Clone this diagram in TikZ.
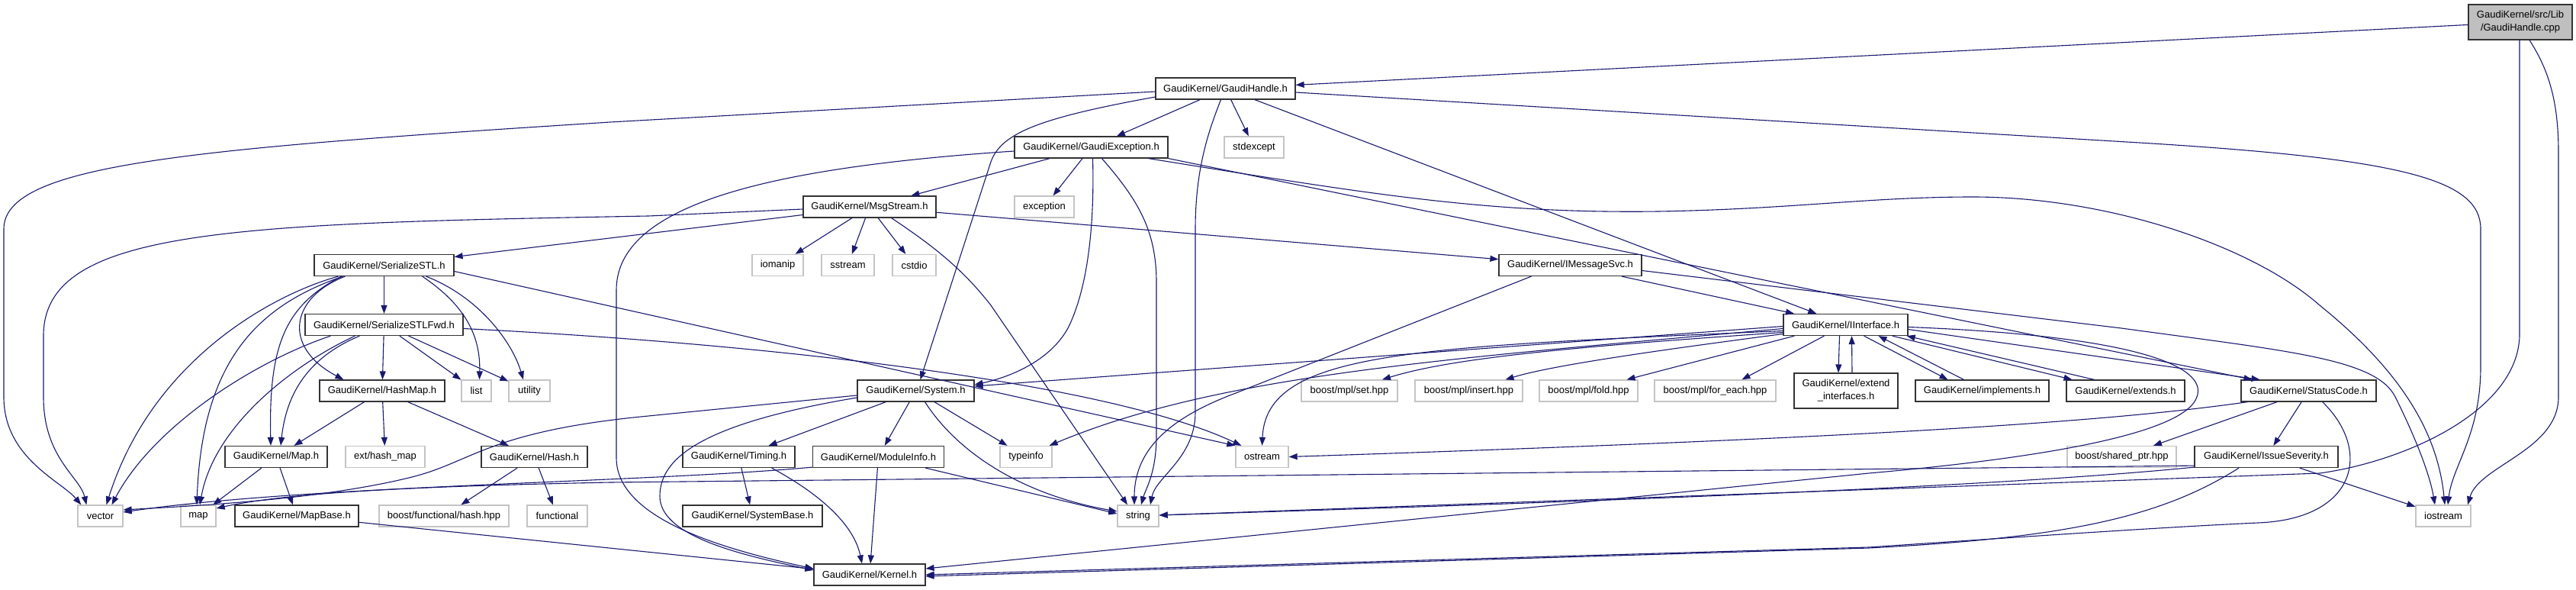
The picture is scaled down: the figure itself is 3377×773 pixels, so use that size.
\documentclass[tikz,border=0pt]{standalone}
\usepackage{fontspec}
\setmainfont{Liberation Sans}
\usetikzlibrary{arrows.meta,calc}
\definecolor{edgec}{HTML}{191970}
\definecolor{sysc}{HTML}{C4C4C4}
\definecolor{cppc}{HTML}{BFBFBF}
\begin{document}
\begin{tikzpicture}[x=1pt,y=-1pt,
  every node/.style={font=\fontsize{13}{17}\selectfont, inner sep=0pt, align=center},
  proj/.style={draw=black!80, line width=1.2pt, fill=white, minimum height=28pt},
  sys/.style={draw=sysc, line width=1.3pt, fill=white, minimum height=28pt},
  cppbox/.style={draw=black!80, line width=1.2pt, fill=cppc, minimum height=46pt},
  e/.style={draw=edgec, line width=1.1pt, -{Triangle[length=11pt,width=8pt]}}]
\fill[white] (0,0) rectangle (3377,773);
\useasboundingbox (0,0) rectangle (3377,773);

% ---------------- nodes ----------------
\node[cppbox, minimum width=136pt] (cpp) at (3304,29) {GaudiKernel/src/Lib\\/GaudiHandle.cpp};
\node[proj, minimum width=183pt] (GH) at (1606.5,116) {GaudiKernel/GaudiHandle.h};
\node[proj, minimum width=201pt] (GE) at (1430.5,193) {GaudiKernel/GaudiException.h};
\node[sys, minimum width=78pt] (stdexcept) at (1644,193) {stdexcept};
\node[proj, minimum width=174pt] (MS) at (1140,271) {GaudiKernel/MsgStream.h};
\node[sys, minimum width=78pt] (exc) at (1369,271) {exception};
\node[sys, minimum width=67pt] (iomanip) at (1019.5,347.5) {iomanip};
\node[sys, minimum width=69pt] (sstream) at (1111.5,347.5) {sstream};
\node[sys, minimum width=57pt] (cstdio) at (1198.5,347.5) {cstdio};
\node[proj, minimum width=187pt] (IMS) at (2058.5,347.5) {GaudiKernel/IMessageSvc.h};
\node[proj, minimum width=183pt] (SS) at (503.5,347.5) {GaudiKernel/SerializeSTL.h};
\node[proj, minimum width=207pt] (SSF) at (503.5,425.5) {GaudiKernel/SerializeSTLFwd.h};
\node[proj, minimum width=163pt] (II) at (2419.5,425.5) {GaudiKernel/IInterface.h};
\node[proj, minimum width=164pt] (HM) at (501,512) {GaudiKernel/HashMap.h};
\node[sys, minimum width=39pt] (nlist) at (624.5,512) {list};
\node[sys, minimum width=54pt] (nutility) at (694,512) {utility};
\node[proj, minimum width=153pt] (Sys) at (1200.5,512) {GaudiKernel/System.h};
\node[sys, minimum width=126pt] (nset) at (1769,512) {boost/mpl/set.hpp};
\node[sys, minimum width=141pt] (ninsert) at (1925.5,512) {boost/mpl/insert.hpp};
\node[sys, minimum width=129pt] (nfold) at (2082.5,512) {boost/mpl/fold.hpp};
\node[sys, minimum width=159pt] (nforeach) at (2248.5,512) {boost/mpl/for\_each.hpp};
\node[proj, minimum width=136pt, minimum height=46pt] (EI) at (2420,512) {GaudiKernel/extend\\\_interfaces.h};
\node[proj, minimum width=175pt] (impl) at (2598.5,512) {GaudiKernel/implements.h};
\node[proj, minimum width=155pt] (ext) at (2786.5,512) {GaudiKernel/extends.h};
\node[proj, minimum width=177pt] (SC) at (3026.5,512) {GaudiKernel/StatusCode.h};
\node[proj, minimum width=134pt] (Map) at (362,598.5) {GaudiKernel/Map.h};
\node[sys, minimum width=104pt] (nhashmap) at (505,598.5) {ext/hash\_map};
\node[proj, minimum width=139pt] (Hash) at (700.5,598.5) {GaudiKernel/Hash.h};
\node[proj, minimum width=147pt] (Timing) at (968.5,598.5) {GaudiKernel/Timing.h};
\node[proj, minimum width=172pt] (MI) at (1151.5,598.5) {GaudiKernel/ModuleInfo.h};
\node[sys, minimum width=68pt] (ntypeinfo) at (1345,598.5) {typeinfo};
\node[sys, minimum width=69pt] (nostream) at (1654.5,598.5) {ostream};
\node[sys, minimum width=143pt] (nshptr) at (2781.5,598.5) {boost/shared\_ptr.hpp};
\node[proj, minimum width=188pt] (IS) at (2971,598.5) {GaudiKernel/IssueSeverity.h};
\node[sys, minimum width=59pt] (nvector) at (131.5,676) {vector};
\node[sys, minimum width=46pt] (nmap) at (260,676) {map};
\node[proj, minimum width=162pt] (MB) at (389,676) {GaudiKernel/MapBase.h};
\node[sys, minimum width=170pt] (nfhash) at (582,676) {boost/functional/hash.hpp};
\node[sys, minimum width=79pt] (nfunctional) at (730.5,676) {functional};
\node[proj, minimum width=183pt] (SB) at (986.5,676) {GaudiKernel/SystemBase.h};
\node[sys, minimum width=54pt] (nstring) at (1492,676) {string};
\node[sys, minimum width=72pt] (niostream) at (3203,676) {iostream};
\node[proj, minimum width=146pt] (Kernel) at (1140,753) {GaudiKernel/Kernel.h};

% ---------------- edges ----------------
% GaudiHandle.cpp
\draw[e] (cpp) -- (GH);
\draw[e] ($(cpp.south)+(-1,0)$) -- (3303,440) .. controls (3300,540) and (3150,605) .. (3041,620) -- ($(nstring.east)+(0,-1)$);
\draw[e] ($(cpp.south)+(12,0)$) .. controls (3340,90) and (3354,130) .. (3354,200) -- (3354,520) .. controls (3354,590) and (3250,610) .. ($(niostream.north)+(32,0)$);

% GaudiHandle.h
\draw[e] (GH) -- (GE);
\draw[e] (GH) -- (stdexcept);
\draw[e] (GH) -- (II);
\draw[e] ($(GH.west)+(0,11)$) .. controls (1360,155) and (1310,175) .. (1298,215) -- ($(Sys.north)+(6,0)$);
\draw[e] ($(GH.south)+(-6,0)$) .. controls (1585,170) and (1567,220) .. (1567,300) -- (1567,540) .. controls (1567,600) and (1515,625) .. ($(nstring.north)+(16,0)$);
\draw[e] ($(GH.west)+(0,4)$) -- (800,160) .. controls (250,195) and (5,215) .. (5,300) -- (5,520) .. controls (5,600) and (80,630) .. ($(nvector.north west)+(5,0)$);
\draw[e] ($(GH.east)+(0,5)$) -- (2805,187) .. controls (3150,208) and (3252,235) .. (3252,300) -- (3252,480) .. controls (3252,570) and (3215,610) .. ($(niostream.north)+(6,0)$);

% GaudiException.h
\draw[e] (GE) -- (exc);
\draw[e] (GE) -- (MS);
\draw[e] ($(GE.south)+(2,0)$) .. controls (1435,300) and (1425,380) .. (1400,430) .. controls (1375,475) and (1320,495) .. ($(Sys.east)+(0,-8)$);
\draw[e] ($(GE.south)+(14,0)$) .. controls (1490,260) and (1516,300) .. (1516,370) -- (1516,570) .. controls (1516,620) and (1502,640) .. ($(nstring.north)+(4,0)$);
\draw[e] ($(GE.west)+(0,5)$) .. controls (1000,220) and (808,270) .. (808,380) -- (808,600) .. controls (808,680) and (950,720) .. ($(Kernel.west)+(0,-8)$);
\draw[e] (GE.south east) -- ($(SC.north)+(-74,0)$);
\draw[e] ($(GE.south east)+(-26,0)$) .. controls (1800,255) and (1950,280) .. (2174,277) .. controls (2350,274) and (2450,258) .. (2586,258) .. controls (2760,258) and (2950,320) .. (3041,400) .. controls (3140,480) and (3195,560) .. ($(niostream.north)+(2,0)$);

% MsgStream.h
\draw[e] (MS) -- (IMS);
\draw[e] (MS) -- (SS);
\draw[e] (MS) -- (iomanip);
\draw[e] (MS) -- (sstream);
\draw[e] (MS) -- (cstdio);
\draw[e] ($(MS.south east)+(-59,0)$) .. controls (1220,320) and (1260,350) .. (1299,400) -- ($(nstring.north)+(-14,0)$);
\draw[e] ($(MS.west)+(0,3)$) -- (850,283) .. controls (300,293) and (57,300) .. (57,440) -- (57,520) .. controls (57,600) and (105,625) .. ($(nvector.north west)+(12,0)$);

% IMessageSvc.h
\draw[e] (IMS) -- (II);
\draw[e] ($(IMS.south west)+(43,0)$) -- (1620,515) .. controls (1540,545) and (1487,585) .. ($(nstring.north)+(-5,0)$);
\draw[e] ($(IMS.east)+(0,7)$) -- (2781,430) .. controls (3000,460) and (3115,470) .. (3140,520) .. controls (3165,570) and (3185,620) .. ($(niostream.north)+(-11,0)$);

% SerializeSTL.h
\draw[e] (SS) -- (SSF);
\draw[e] ($(SS.south west)+(32,0)$) .. controls (360,385) and (200,470) .. ($(nvector.north)+(8,0)$);
\draw[e] ($(SS.south west)+(36,0)$) .. controls (375,400) and (352,450) .. ($(Map.north)+(-7,0)$);
\draw[e] ($(SS.south west)+(38,0)$) .. controls (340,400) and (265,470) .. ($(nmap.north)+(-2,0)$);
\draw[e] ($(SS.south west)+(41,0)$) .. controls (380,390) and (370,455) .. ($(HM.north west)+(32,0)$);
\draw[e] ($(SS.south east)+(-42,0)$) .. controls (610,400) and (630,440) .. ($(nlist.north)+(4,0)$);
\draw[e] ($(SS.south east)+(-37,0)$) .. controls (630,390) and (672,450) .. ($(nutility.north)+(-8,0)$);
\draw[e] ($(SS.east)+(0,8)$) -- (nostream.north west);

% SerializeSTLFwd.h
\draw[e] (SSF) -- (HM);
\draw[e] (SSF) -- (nlist);
\draw[e] (SSF) -- (nutility);
\draw[e] ($(SSF.south west)+(34,0)$) .. controls (330,475) and (200,560) .. ($(nvector.north)+(15,0)$);
\draw[e] ($(SSF.south west)+(72,0)$) .. controls (400,470) and (375,520) .. ($(Map.north)+(6,0)$);
\draw[e] ($(SSF.south west)+(66,0)$) .. controls (380,480) and (280,560) .. ($(nmap.north)+(2,0)$);
\draw[e] ($(SSF.east)+(0,5)$) .. controls (1000,450) and (1450,500) .. ($(nostream.north west)+(8,0)$);

% HashMap.h, Map.h, Hash.h, MapBase.h
\draw[e] (HM) -- (Map);
\draw[e] (HM) -- (nhashmap);
\draw[e] (HM) -- (Hash);
\draw[e] (Map) -- (nmap);
\draw[e] (Map) -- (MB);
\draw[e] (Hash) -- (nfhash);
\draw[e] (Hash) -- (nfunctional);
\draw[e] (MB) -- (Kernel);

% System.h
\draw[e] (Sys) -- (Timing);
\draw[e] (Sys) -- (MI);
\draw[e] (Sys) -- (ntypeinfo);
\draw[e] ($(Sys.south)+(12,0)$) .. controls (1260,600) and (1350,650) .. ($(nstring.west)+(0,-6)$);
\draw[e] ($(Sys.west)+(0,6)$) -- (850,545) .. controls (640,565) and (620,605) .. (540,625) .. controls (420,655) and (250,663) .. ($(nvector.east)+(0,-8)$);
\draw[e] ($(Sys.west)+(0,9)$) .. controls (920,555) and (865,600) .. (865,650) .. controls (865,700) and (960,725) .. ($(Kernel.west)+(0,-6)$);

% Timing.h, ModuleInfo.h
\draw[e] (Timing) -- (SB);
\draw[e] ($(Timing.south east)+(-31,0)$) .. controls (1080,650) and (1120,690) .. ($(Kernel.north)+(-10,0)$);
\draw[e] (MI) -- (Kernel);
\draw[e] ($(MI.south east)+(-25,0)$) -- ($(nstring.west)+(0,-3)$);
\draw[e] ($(MI.south west)+(0,-1)$) .. controls (850,632) and (400,636) .. ($(nvector.east)+(0,-5)$);

% IInterface.h
\draw[e] ($(II.west)+(0,2)$) -- ($(Sys.east)+(0,-6)$);
\draw[e] ($(II.west)+(0,5)$) .. controls (1900,470) and (1600,490) .. ($(ntypeinfo.north east)+(-4,0)$);
\draw[e] ($(II.west)+(0,8)$) .. controls (1850,455) and (1660,460) .. (nostream.north);
\draw[e] ($(II.west)+(0,10)$) .. controls (2050,455) and (1900,470) .. ($(nset.north)+(43,0)$);
\draw[e] ($(II.west)+(0,12)$) .. controls (2150,462) and (2030,480) .. ($(ninsert.north)+(48,0)$);
\draw[e] ($(II.south west)+(15,0)$) -- ($(nfold.north)+(50,0)$);
\draw[e] ($(II.south west)+(54,0)$) -- ($(nforeach.north)+(35,0)$);
\draw[e] ($(II.south)+(-8,0)$) -- ($(EI.north)+(-10,0)$);
\draw[e] ($(EI.north)+(8,0)$) -- ($(II.south)+(8,0)$);
\draw[e] ($(II.south)+(24,0)$) -- ($(impl.north)+(-45,0)$);
\draw[e] ($(impl.north)+(-24,0)$) -- ($(II.south)+(43,0)$);
\draw[e] ($(II.south east)+(-21,0)$) -- ($(ext.north)+(-70,0)$);
\draw[e] ($(ext.north)+(-41,0)$) -- ($(II.south east)+(-2,0)$);
\draw[e] ($(II.east)+(0,6)$) -- ($(SC.north)+(-64,0)$);
\draw[e] ($(II.east)+(0,3)$) .. controls (2800,440) and (2895,480) .. (2880,520) .. controls (2865,565) and (2700,598) .. (2450,620) -- ($(Kernel.east)+(0,-8)$);

% StatusCode.h
\draw[e] ($(SC.south west)+(9,0)$) .. controls (2750,555) and (2400,575) .. (nostream.east);
\draw[e] (SC) -- (nshptr);
\draw[e] (SC) -- (IS);
\draw[e] ($(SC.south east)+(-71,0)$) .. controls (3110,590) and (3090,680) .. (2960,685) .. controls (2850,690) and (2700,700) .. (2450,717) -- (Kernel.east);

% IssueSeverity.h
\draw[e] (IS) -- (niostream);
\draw[e] ($(IS.south west)+(0,-1)$) .. controls (2600,640) and (2000,660) .. ($(nstring.east)+(0,-1)$);
\draw[e] ($(IS.south west)+(0,-3)$) -- (800,632) .. controls (550,637) and (380,645) .. ($(nmap.east)+(0,-10)$);
\draw[e] ($(IS.south)+(-36,0)$) .. controls (2830,680) and (2700,705) .. (2450,718) -- ($(Kernel.east)+(0,2)$);
\end{tikzpicture}
\end{document}
